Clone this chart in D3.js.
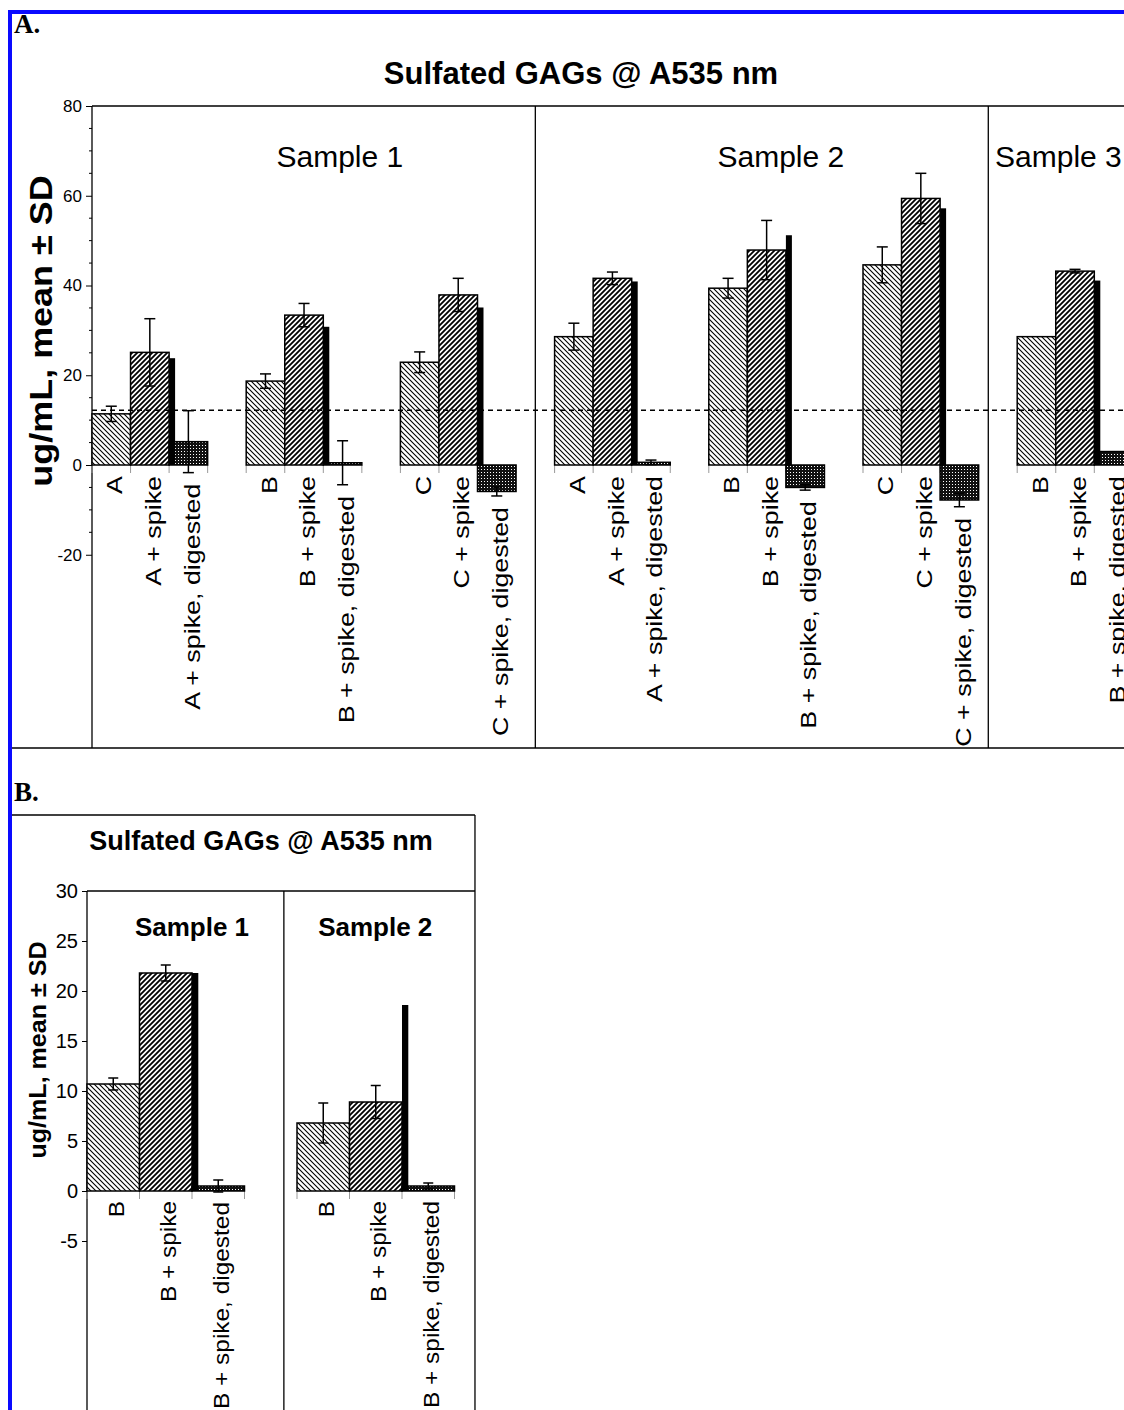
<!DOCTYPE html>
<html><head><meta charset="utf-8">
<script src="https://cdn.jsdelivr.net/npm/d3@7"></script>
<style>
body{margin:0;background:#fff}
svg{display:block}
text{font-family:"Liberation Sans",Arial,sans-serif;fill:#000}
</style>
</head><body>
<script>
// ---------------- DATA ----------------
const chartTitle = "Sulfated GAGs @ A535 nm";
const yAxisTitle = "ug/mL, mean \u00b1 SD";
const seriesSuffix = ["", " + spike", " + spike, digested"];

// Panel A
const groupsA   = ["A", "B", "C", "A", "B", "C", "B"];
const samplesA  = ["Sample 1", "Sample 2", "Sample 3"];
const baseA     = [11.4, 18.7, 22.9, 28.6, 39.4, 44.6, 28.6];
const baseSdA   = [1.7, 1.6, 2.3, 3.0, 2.2, 4.0, null];
const spikeA    = [25.1, 33.4, 37.9, 41.6, 47.9, 59.4, 43.2];
const spikeSdA  = [7.5, 2.6, 3.7, 1.4, 6.6, 5.6, 0.4];
const shadowA   = [23.8, 30.8, 35.1, 40.9, 51.2, 57.2, 41.1];
const digestA   = [5.2, 0.5, -5.9, 0.6, -5.0, -7.8, 3.0];
const digestSdA = [6.9, 4.9, 1.0, 0.5, 0.6, 1.5, null];
const refLineA  = 12.2;
const yTicksA   = [-20, 0, 20, 40, 60, 80];

// Panel B
const groupsB   = ["B", "B"];
const samplesB  = ["Sample 1", "Sample 2"];
const baseB     = [10.7, 6.8];
const baseSdB   = [0.6, 2.0];
const spikeB    = [21.8, 8.9];
const spikeSdB  = [0.8, 1.65];
const shadowB   = [21.8, 18.6];
const digestB   = [0.5, 0.5];
const digestSdB = [0.6, 0.3];
const yTicksB   = [-5, 0, 5, 10, 15, 20, 25, 30];

// ---------------- LAYOUT ----------------
const W = 1124, H = 1410;
const svg = d3.select("body").append("svg").attr("width", W).attr("height", H);
const defs = svg.append("defs");

// patterns
const pLight = defs.append("pattern").attr("id", "pLight").attr("patternUnits", "userSpaceOnUse")
  .attr("width", 5).attr("height", 5);
pLight.append("rect").attr("width", 5).attr("height", 5).attr("fill", "#fff");
pLight.append("path").attr("d", "M0,0L5,5M-1,4L1,6M4,-1L6,1").attr("stroke", "#000").attr("stroke-width", 1.1);

const pSpike = defs.append("pattern").attr("id", "pSpike").attr("patternUnits", "userSpaceOnUse")
  .attr("width", 5).attr("height", 5);
pSpike.append("rect").attr("width", 5).attr("height", 5).attr("fill", "#fff");
pSpike.append("path").attr("d", "M0,5L5,0M-1,1L1,-1M4,6L6,4").attr("stroke", "#000").attr("stroke-width", 1.8);

const pDig = defs.append("pattern").attr("id", "pDig").attr("patternUnits", "userSpaceOnUse")
  .attr("width", 3).attr("height", 3);
pDig.append("rect").attr("width", 3).attr("height", 3).attr("fill", "#111");
pDig.append("rect").attr("x", 1).attr("y", 1).attr("width", 1).attr("height", 1).attr("fill", "#fff");

const fills = ["url(#pLight)", "url(#pSpike)", "url(#pDig)"];

function stretch(sel, f) {
  sel.each(function () {
    const l = this.getComputedTextLength();
    d3.select(this).attr("textLength", l * f).attr("lengthAdjust", "spacingAndGlyphs");
  });
}

function buildRows(groups, base, baseSd, spike, spikeSd, digest, digestSd) {
  const rows = [];
  groups.forEach((g, i) => {
    rows.push({ slot: 4 * i,     v: base[i],   sd: baseSd[i],   k: 0, label: g + seriesSuffix[0] });
    rows.push({ slot: 4 * i + 1, v: spike[i],  sd: spikeSd[i],  k: 1, label: g + seriesSuffix[1] });
    rows.push({ slot: 4 * i + 2, v: digest[i], sd: digestSd[i], k: 2, label: g + seriesSuffix[2] });
  });
  return rows;
}

function drawPanel(o) {
  const g = svg.append("g");
  const x = o.x, y = o.y, y0 = y(0);
  const rows = buildRows(o.groups, o.base, o.baseSd, o.spike, o.spikeSd, o.digest, o.digestSd);

  // gray category ticks below zero
  g.selectAll(".ct").data(d3.range(0, o.nSlots + 1)).join("line")
    .attr("x1", d => x(d)).attr("x2", d => x(d))
    .attr("y1", y0).attr("y2", y0 + 8)
    .attr("stroke", "#999").attr("stroke-width", 1);

  // bars
  g.selectAll(".bar").data(rows).join("rect")
    .attr("x", d => x(d.slot)).attr("width", d => x(d.slot + 1) - x(d.slot))
    .attr("y", d => y(Math.max(0, d.v))).attr("height", d => Math.abs(y(d.v) - y0))
    .attr("fill", d => fills[d.k]).attr("stroke", "#000").attr("stroke-width", 1.5);

  // black shadow bars
  g.selectAll(".sh").data(o.shadow).join("rect")
    .attr("x", (d, i) => x(4 * i + 2)).attr("width", o.shadowW)
    .attr("y", d => y(d)).attr("height", d => y0 - y(d))
    .attr("fill", "#000");

  // error bars
  const eb = rows.filter(d => d.sd != null);
  const cx = d => (x(d.slot) + x(d.slot + 1)) / 2;
  g.selectAll(".ev").data(eb).join("line")
    .attr("x1", cx).attr("x2", cx)
    .attr("y1", d => y(d.v - d.sd)).attr("y2", d => y(d.v + d.sd))
    .attr("stroke", "#000").attr("stroke-width", 1.5);
  [1, -1].forEach(s => {
    g.selectAll(".ec" + s).data(eb).join("line")
      .attr("x1", d => cx(d) - o.cap).attr("x2", d => cx(d) + o.cap)
      .attr("y1", d => y(d.v + s * d.sd)).attr("y2", d => y(d.v + s * d.sd))
      .attr("stroke", "#000").attr("stroke-width", 1.5);
  });

  // category labels (rotated)
  const lab = g.selectAll(".cl").data(rows).join("text")
    .attr("transform", d => {
      let top = y0;
      if (d.k === 2) {
        const lo = d.sd != null ? d.v - d.sd : d.v;
        top = Math.max(y0, y(lo));
      }
      return `translate(${cx(d) + o.labShift},${top + o.labGap}) rotate(-90)`;
    })
    .attr("text-anchor", "end").attr("dy", "0.35em")
    .attr("font-size", o.labSize)
    .text(d => d.label);
  stretch(lab, o.labStretch);

  // y axis
  const ax = g.append("g").attr("transform", `translate(${x(0)},0)`)
    .call(d3.axisLeft(y).tickValues(o.yTicks).tickSize(o.tickLen).tickFormat(d => String(d)));
  ax.select(".domain").remove();
  ax.selectAll("line").attr("stroke", "#000");
  ax.selectAll("text").attr("font-size", o.tickSize).attr("font-family", '"Liberation Sans",Arial,sans-serif')
    .attr("dx", "-1");
  if (o.minor) {
    g.selectAll(".mt").data(o.minor).join("line")
      .attr("x1", x(0) - 3).attr("x2", x(0)).attr("y1", d => y(d)).attr("y2", d => y(d))
      .attr("stroke", "#000");
  }
  return g;
}

// ---------- Blue outer border ----------
svg.append("line").attr("x1", 8).attr("x2", W).attr("y1", 12).attr("y2", 12)
  .attr("stroke", "#0a0aff").attr("stroke-width", 4);
svg.append("line").attr("x1", 10).attr("x2", 10).attr("y1", 10).attr("y2", H)
  .attr("stroke", "#0a0aff").attr("stroke-width", 4);

// ---------- PANEL A ----------
const slotA = 38.55;
const xA = d3.scaleLinear().domain([0, 28]).range([92, 92 + 28 * slotA]);
const yA = d3.scaleLinear().domain([-20, 80]).range([554.75, 106]);
const plotBottomA = 748;

svg.append("text").attr("x", 14).attr("y", 33).attr("font-size", 27).attr("font-weight", "bold")
  .style("font-family", '"Liberation Serif","Times New Roman",serif').text("A.");
svg.append("text").attr("x", 581).attr("y", 84).attr("text-anchor", "middle")
  .attr("font-size", 31).attr("font-weight", "bold").text(chartTitle);

// frame lines
svg.append("line").attr("x1", xA(0)).attr("x2", W).attr("y1", yA(80)).attr("y2", yA(80)).attr("stroke", "#000").attr("stroke-width", 1.3);
svg.append("line").attr("x1", 12).attr("x2", W).attr("y1", plotBottomA).attr("y2", plotBottomA).attr("stroke", "#000").attr("stroke-width", 1.3);
svg.append("line").attr("x1", xA(0)).attr("x2", xA(0)).attr("y1", yA(80)).attr("y2", plotBottomA).attr("stroke", "#000").attr("stroke-width", 1.3);
const dividersA = [11.5, 23.25];
svg.selectAll(".dvA").data(dividersA).join("line")
  .attr("x1", d => xA(d)).attr("x2", d => xA(d)).attr("y1", yA(80)).attr("y2", plotBottomA)
  .attr("stroke", "#000").attr("stroke-width", 1.3);

const sampleSlotA = [6.43, 17.87, 25.07];
svg.selectAll(".sA").data(samplesA).join("text")
  .attr("x", (d, i) => xA(sampleSlotA[i])).attr("y", 167).attr("text-anchor", "middle")
  .attr("font-size", 30).text(d => d);

drawPanel({
  x: xA, y: yA, nSlots: 28, groups: groupsA,
  base: baseA, baseSd: baseSdA, spike: spikeA, spikeSd: spikeSdA,
  digest: digestA, digestSd: digestSdA, shadow: shadowA, shadowW: 6, cap: 5.5,
  labShift: 3.5, labGap: 11, labSize: 22, labStretch: 1.22,
  yTicks: yTicksA, tickLen: 6, tickSize: 17,
  minor: d3.range(-20, 81, 5).filter(v => v % 20 !== 0)
});

// dashed reference line
svg.append("line").attr("x1", xA(0)).attr("x2", W).attr("y1", yA(refLineA)).attr("y2", yA(refLineA))
  .attr("stroke", "#000").attr("stroke-width", 1.3).attr("stroke-dasharray", "5,4");

// y title A
const ytA = svg.append("text").attr("transform", `translate(52,331) rotate(-90)`)
  .attr("text-anchor", "middle").attr("font-size", 31).attr("font-weight", "bold").text(yAxisTitle);
stretch(ytA, 1.16);

// ---------- PANEL B ----------
const slotB = 52.5;
const xB = d3.scaleLinear().domain([0, 7.39]).range([87, 87 + 7.39 * slotB]);
const yB = d3.scaleLinear().domain([-5, 30]).range([1241, 891]);
const frameTopB = 815;

svg.append("text").attr("x", 14).attr("y", 801).attr("font-size", 27).attr("font-weight", "bold")
  .style("font-family", '"Liberation Serif","Times New Roman",serif').text("B.");

svg.append("line").attr("x1", 12).attr("x2", xB(7.39)).attr("y1", frameTopB).attr("y2", frameTopB).attr("stroke", "#000").attr("stroke-width", 1.3);
svg.append("line").attr("x1", xB(7.39)).attr("x2", xB(7.39)).attr("y1", frameTopB).attr("y2", H).attr("stroke", "#000").attr("stroke-width", 1.3);
svg.append("line").attr("x1", xB(0)).attr("x2", xB(7.39)).attr("y1", yB(30)).attr("y2", yB(30)).attr("stroke", "#000").attr("stroke-width", 1.3);
svg.append("line").attr("x1", xB(0)).attr("x2", xB(0)).attr("y1", yB(30)).attr("y2", H).attr("stroke", "#000").attr("stroke-width", 1.3);
svg.append("line").attr("x1", xB(3.75)).attr("x2", xB(3.75)).attr("y1", yB(30)).attr("y2", H).attr("stroke", "#000").attr("stroke-width", 1.3);

svg.append("text").attr("x", 261).attr("y", 850).attr("text-anchor", "middle")
  .attr("font-size", 27).attr("font-weight", "bold").text(chartTitle);

const sampleSlotB = [2.0, 5.49];
svg.selectAll(".sB").data(samplesB).join("text")
  .attr("x", (d, i) => xB(sampleSlotB[i])).attr("y", 936).attr("text-anchor", "middle")
  .attr("font-size", 26).attr("font-weight", "bold").text(d => d);

drawPanel({
  x: xB, y: yB, nSlots: 7, groups: groupsB,
  base: baseB, baseSd: baseSdB, spike: spikeB, spikeSd: spikeSdB,
  digest: digestB, digestSd: digestSdB, shadow: shadowB, shadowW: 6.3, cap: 5,
  labShift: 3, labGap: 10, labSize: 22, labStretch: 1.11,
  yTicks: yTicksB, tickLen: 5, tickSize: 20, minor: null
});

const ytB = svg.append("text").attr("transform", `translate(46,1050) rotate(-90)`)
  .attr("text-anchor", "middle").attr("font-size", 23).attr("font-weight", "bold").text(yAxisTitle);
stretch(ytB, 1.09);
</script>
</body></html>
